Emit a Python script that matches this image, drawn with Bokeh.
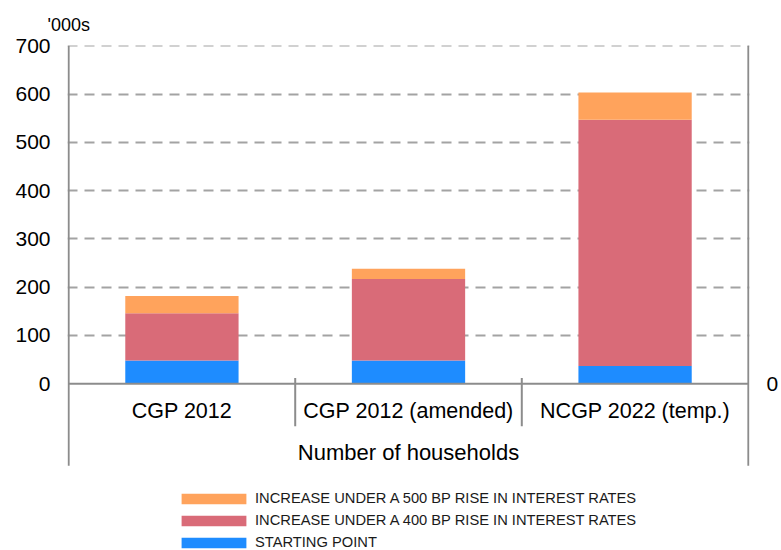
from bokeh.plotting import figure
from bokeh.models import (Range1d, LinearAxis, FixedTicker, Legend, LegendItem,
                          ColumnDataSource)
from bokeh.core.properties import value
from bokeh.embed import file_html
from bokeh.resources import INLINE

categories = ["CGP 2012", "CGP 2012 (amended)", "NCGP 2022 (temp.)"]
starting_point = [48, 48, 37]
increase_400bp = [98, 169, 510]
increase_500bp = [36, 21, 56]
y_ticks = [0, 100, 200, 300, 400, 500, 600, 700]
series_labels = ["STARTING POINT",
                 "INCREASE UNDER A 400 BP RISE IN INTEREST RATES",
                 "INCREASE UNDER A 500 BP RISE IN INTEREST RATES"]
axis_title = "Number of households"
unit_label = "'000s"

FONT = "Liberation Sans"
colors = ["#1E8CFF", "#D96B78", "#FFA35C"]
AXIS_C = "#8C8C8C"
GRID_C = "#A3A3A3"

n = len(categories)
xs = [i + 0.5 for i in range(n)]
top0 = list(starting_point)
top1 = [a + b for a, b in zip(top0, increase_400bp)]
top2 = [a + b for a, b in zip(top1, increase_500bp)]
src = ColumnDataSource(dict(x=xs, b0=[0] * n, t0=top0, t1=top1, t2=top2, cat=categories))

y_top = y_ticks[-1] + 0.6
y_frame_bottom = -345.3   # frame extends to the canvas bottom so the legend fits inside it
y_lines_bottom = -170     # where the frame lines stop

p = figure(width=781, height=550, x_range=Range1d(-0.005, n + 0.005),
           y_range=Range1d(y_frame_bottom, y_top),
           output_backend="svg", toolbar_location=None, x_axis_location=None,
           min_border_left=67, min_border_right=30, min_border_top=45, min_border_bottom=0)
p.outline_line_color = None
p.background_fill_color = "white"
p.border_fill_color = "white"
p.xgrid.visible = False

# unit label as title
p.title.text = unit_label
p.title.align = "left"
p.title.offset = -20
p.title.text_font = FONT
p.title.text_font_size = "18px"
p.title.text_font_style = "normal"
p.title.text_color = "black"
p.title.standoff = 22

def style_axis(ax, standoff):
    ax.axis_line_color = None
    ax.major_tick_line_color = None
    ax.minor_tick_line_color = None
    ax.major_tick_out = 0
    ax.major_tick_in = 0
    ax.minor_tick_out = 0
    ax.minor_tick_in = 0
    ax.major_label_text_font = FONT
    ax.major_label_text_font_size = "21px"
    ax.major_label_text_color = "black"
    ax.major_label_standoff = standoff

ya = p.yaxis[0]
ya.ticker = FixedTicker(ticks=y_ticks)
style_axis(ya, 17)

ra = LinearAxis(ticker=FixedTicker(ticks=[0]))
style_axis(ra, 17)
p.add_layout(ra, "right")

# grid
p.ygrid.ticker = FixedTicker(ticks=y_ticks[1:])
p.ygrid.grid_line_color = GRID_C
p.ygrid.grid_line_width = 2
p.ygrid.grid_line_dash = "10 7"

# bars
r0 = p.vbar(x="x", bottom="b0", top="t0", width=0.5, source=src, fill_color=colors[0], line_color=None)
r1 = p.vbar(x="x", bottom="t0", top="t1", width=0.5, source=src, fill_color=colors[1], line_color=None)
r2 = p.vbar(x="x", bottom="t1", top="t2", width=0.5, source=src, fill_color=colors[2], line_color=None)

# frame lines (left/right), x axis line and category separators
p.segment(x0=[0, n], x1=[0, n], y0=[y_lines_bottom] * 2, y1=[y_ticks[-1]] * 2,
          line_color=AXIS_C, line_width=2)
p.segment(x0=[0], x1=[n], y0=[0], y1=[0], line_color=AXIS_C, line_width=2)
bounds = list(range(1, n))
p.segment(x0=bounds, x1=bounds, y0=[12] * len(bounds), y1=[-88] * len(bounds),
          line_color=AXIS_C, line_width=2)

p.text(x="x", y=-56, text="cat", source=src, text_font=value(FONT), text_font_size="21.5px",
       text_align="center", text_baseline="middle", text_color="black")
p.text(x=[n / 2], y=[-143], text=[axis_title], text_font=value(FONT), text_font_size="22px",
       text_align="center", text_baseline="middle", text_color="black")

legend = Legend(items=[LegendItem(label=series_labels[2], renderers=[r2]),
                       LegendItem(label=series_labels[1], renderers=[r1]),
                       LegendItem(label=series_labels[0], renderers=[r0])],
                location=(106, -2), orientation="vertical",
                glyph_width=81, glyph_height=13, label_standoff=1, label_height=20, spacing=2,
                padding=0, margin=0, border_line_color=None, background_fill_alpha=0,
                label_text_font=FONT, label_text_font_size="14.7px", label_text_color="#1A1A1A")
p.add_layout(legend, "center")

open("out.html", "w").write(file_html(p, INLINE))
